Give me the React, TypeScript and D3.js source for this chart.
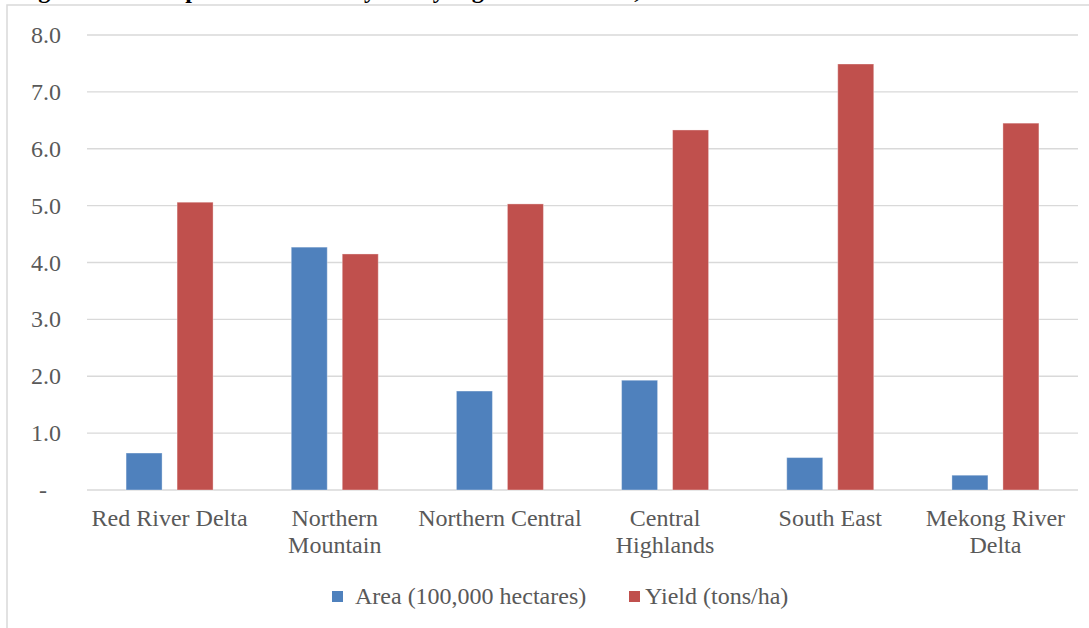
import React from "react";
import * as d3 from "d3";

const regions: string[][] = [
  ["Red River Delta"],
  ["Northern", "Mountain"],
  ["Northern Central"],
  ["Central", "Highlands"],
  ["South East"],
  ["Mekong River", "Delta"],
];
const areaValues = [0.65, 4.27, 1.74, 1.93, 0.57, 0.26];
const yieldValues = [5.06, 4.15, 5.03, 6.33, 7.49, 6.45];
const yTicks = [0, 1, 2, 3, 4, 5, 6, 7, 8];
const seriesNames = ["Area (100,000 hectares)", "Yield (tons/ha)"];
const seriesColors = ["#4f81bd", "#c0504d"];
const title = "Figure 3: Maize planted area and yield by region in Vietnam, 2016";

const W = 1089;
const H = 628;
const FONT = "'Liberation Serif', 'Times New Roman', serif";
const TEXT = "#595959";

export default function App() {
  const x = d3
    .scaleBand<number>()
    .domain(d3.range(regions.length))
    .range([87, 1078]);
  const y = d3.scaleLinear().domain([0, 8]).range([490, 35]);
  const barW = 36;
  const offset = 25.5;
  const series = [areaValues, yieldValues];

  return (
    <svg
      width={W}
      height={H}
      style={{ position: "absolute", left: 0, top: 0, background: "#fff" }}
      fontFamily={FONT}
    >
      {/* heading sits above the frame, only its lowest strokes fall inside the page */}
      <text x={17} y={-2.5} fontSize={24} fontWeight="bold" fill="#000">
        {title}
      </text>
      <rect x={7} y={5} width={W + 20} height={H + 20} fill="none" stroke="#d9d9d9" strokeWidth={1.5} />

      {yTicks.map((t) => (
        <g key={t}>
          <line x1={87} x2={1078} y1={y(t)} y2={y(t)} stroke="#d9d9d9" strokeWidth={1.3} />
          {t === 0 ? (
            <text x={43} y={y(t) + 8} fontSize={24} fill={TEXT} textAnchor="middle">
              -
            </text>
          ) : (
            <text x={61} y={y(t) + 8} fontSize={24} fill={TEXT} textAnchor="end">
              {d3.format(".1f")(t)}
            </text>
          )}
        </g>
      ))}

      {series.map((vals, si) =>
        vals.map((v, i) => {
          const cx = (x(i) as number) + x.bandwidth() / 2 + (si === 0 ? -offset : offset);
          return (
            <rect
              key={`${si}-${i}`}
              x={cx - barW / 2}
              y={y(v)}
              width={barW}
              height={y(0) - y(v)}
              fill={seriesColors[si]}
              stroke="#ffffff"
              strokeOpacity={0.35}
              strokeWidth={1}
            />
          );
        })
      )}

      {regions.map((lines, i) => (
        <text
          key={i}
          x={(x(i) as number) + x.bandwidth() / 2}
          y={526}
          fontSize={24}
          fill={TEXT}
          textAnchor="middle"
        >
          {lines.map((ln, k) => (
            <tspan key={k} x={(x(i) as number) + x.bandwidth() / 2} dy={k === 0 ? 0 : 27}>
              {ln}
            </tspan>
          ))}
        </text>
      ))}

      <rect x={332} y={591} width={11} height={11} fill={seriesColors[0]} />
      <text x={355} y={604} fontSize={24} fill={TEXT}>
        {seriesNames[0]}
      </text>
      <rect x={629} y={591} width={11} height={11} fill={seriesColors[1]} />
      <text x={645} y={604} fontSize={24} fill={TEXT}>
        {seriesNames[1]}
      </text>
    </svg>
  );
}
